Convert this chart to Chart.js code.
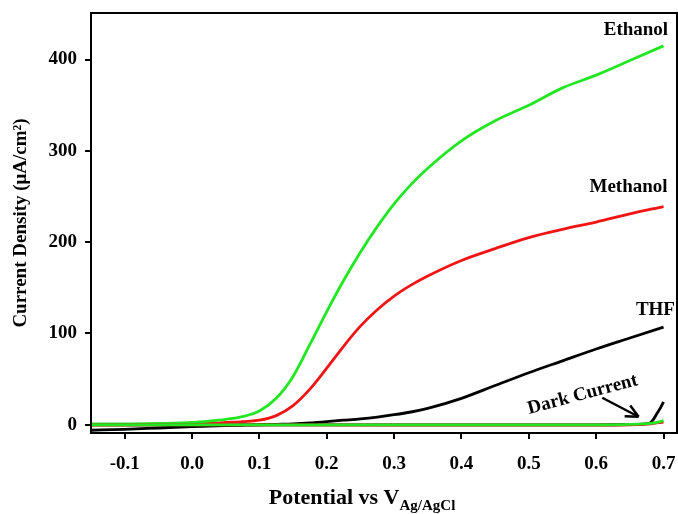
<!DOCTYPE html>
<html>
<head>
<meta charset="utf-8">
<script src="https://cdn.jsdelivr.net/npm/chart.js@4"></script>
<style>
  html, body { margin: 0; padding: 0; background: #fff; }
  #wrap { width: 678px; height: 514px; }
</style>
</head>
<body>
<div id="wrap"><canvas id="cv" width="678" height="514"></canvas></div>
<script>
// Potential (V vs Ag/AgCl)
const potential = [-0.15, -0.10, -0.05, 0.00, 0.025, 0.05, 0.075, 0.10, 0.125, 0.15, 0.175, 0.20,
  0.225, 0.25, 0.275, 0.30, 0.325, 0.35, 0.40, 0.45, 0.50, 0.55, 0.60, 0.65, 0.70];
// Current density, uA/cm2, under light
const ethanol = [1, 1, 1.5, 2.5, 4, 6, 9, 15, 29, 53, 88, 124,
  158, 189, 217, 242, 263, 281, 311, 333, 350, 369, 383, 399, 415];
const methanol = [0, 0, 0.5, 1, 1.5, 2.5, 3.5, 5, 10, 21, 39, 62,
  86, 108, 126, 141, 153, 163, 180, 193, 205, 214, 222, 231, 239];
const thf = [-6, -5, -3.5, -2, -1.5, -1, -0.5, 0, 0.5, 1, 2, 3.5,
  5, 6.5, 8.5, 11, 14, 18, 29, 43, 57, 70, 83, 95, 107];
// Dark current
const darkPotential = [-0.15, 0.00, 0.30, 0.50, 0.60, 0.65, 0.67, 0.68, 0.685, 0.69, 0.695, 0.70];
const darkEthanol = [0, 0, 0, 0, 0, 0.5, 1, 1.5, 2, 2.5, 3.5, 4.5];
const darkMethanol = [0, 0, -0.3, -0.3, -0.3, 0, 0.5, 1, 1.5, 2, 2.5, 3];
const darkThf = [0, 0, 0, 0, 0, 0.3, 0.8, 2, 6, 12, 18, 25];

const xTicks = [-0.1, 0.0, 0.1, 0.2, 0.3, 0.4, 0.5, 0.6, 0.7];
const yTicks = [0, 100, 200, 300, 400];

const GREEN = '#22e622';
const RED = '#f01414';
const FONT = 'Liberation Serif';

function pts(xs, ys) {
  return xs.map((x, i) => ({ x: x, y: ys[i] }));
}

// labels placed in data coordinates
const labels = [
  { text: 'Ethanol', x: 0.659, y: 432 },
  { text: 'Methanol', x: 0.648, y: 260 },
  { text: 'THF', x: 0.688, y: 126 }
];

const decor = {
  id: 'decor',
  afterDraw(chart) {
    const { ctx, chartArea: a, scales: { x, y } } = chart;
    ctx.save();
    // frame
    ctx.strokeStyle = '#000';
    ctx.lineWidth = 2;
    ctx.strokeRect(a.left, a.top, a.right - a.left, a.bottom - a.top);

    ctx.fillStyle = '#000';
    ctx.font = 'bold 19px "' + FONT + '"';
    ctx.textAlign = 'center';
    ctx.textBaseline = 'middle';
    labels.forEach(l => ctx.fillText(l.text, x.getPixelForValue(l.x), y.getPixelForValue(l.y)));

    // Dark Current label and arrow
    ctx.save();
    ctx.translate(x.getPixelForValue(0.580), y.getPixelForValue(33));
    ctx.rotate(-15 * Math.PI / 180);
    ctx.fillText('Dark Current', 0, 0);
    ctx.restore();
    const x0 = x.getPixelForValue(0.609), y0 = y.getPixelForValue(29.6);
    const x1 = x.getPixelForValue(0.663), y1 = y.getPixelForValue(8.8);
    ctx.lineWidth = 2.5;
    ctx.beginPath();
    ctx.moveTo(x0, y0);
    ctx.lineTo(x1, y1);
    ctx.stroke();
    const ang = Math.atan2(y1 - y0, x1 - x0);
    ctx.beginPath();
    ctx.moveTo(x1, y1);
    ctx.lineTo(x1 - 14 * Math.cos(ang - 0.45), y1 - 14 * Math.sin(ang - 0.45));
    ctx.moveTo(x1, y1);
    ctx.lineTo(x1 - 14 * Math.cos(ang + 0.45), y1 - 14 * Math.sin(ang + 0.45));
    ctx.stroke();

    // y title
    ctx.save();
    ctx.translate(21, 223);
    ctx.rotate(-Math.PI / 2);
    ctx.font = 'bold 19px "' + FONT + '"';
    ctx.fillText('Current Density (\u03bcA/cm\u00b2)', 0, 0);
    ctx.restore();

    // x title with subscript
    const main = 'Potential vs V', sub = 'Ag/AgCl';
    ctx.font = 'bold 22px "' + FONT + '"';
    const w1 = ctx.measureText(main).width;
    ctx.font = 'bold 15px "' + FONT + '"';
    const w2 = ctx.measureText(sub).width;
    let sx = 362 - (w1 + w2) / 2;
    ctx.textAlign = 'left';
    ctx.textBaseline = 'alphabetic';
    ctx.font = 'bold 22px "' + FONT + '"';
    ctx.fillText(main, sx, 504);
    ctx.font = 'bold 15px "' + FONT + '"';
    ctx.fillText(sub, sx + w1, 510);
    ctx.restore();
  }
};

const line = (data, color) => ({
  data: data,
  borderColor: color,
  borderWidth: 2.8,
  pointRadius: 0,
  fill: false,
  cubicInterpolationMode: 'monotone'
});

// first dataset is drawn on top
new Chart(document.getElementById('cv'), {
  type: 'line',
  data: {
    datasets: [
      line(pts(darkPotential, darkEthanol), GREEN),
      line(pts(darkPotential, darkMethanol), RED),
      line(pts(potential, ethanol), GREEN),
      line(pts(potential, methanol), RED),
      line(pts(potential, thf), '#000'),
      line(pts(darkPotential, darkThf), '#000')
    ]
  },
  options: {
    responsive: false,
    animation: false,
    layout: { padding: { top: 13, right: 1, left: 0, bottom: 0 } },
    plugins: { legend: { display: false }, tooltip: { enabled: false } },
    scales: {
      x: {
        type: 'linear',
        min: -0.15,
        max: 0.72,
        afterBuildTicks: s => { s.ticks = xTicks.map(v => ({ value: v })); },
        afterFit: s => { s.height = 81; s.paddingLeft = 0; s.paddingRight = 0; },
        grid: { drawOnChartArea: false, drawTicks: true, tickLength: 6, color: '#000', lineWidth: 2 },
        border: { display: true, color: '#000', width: 2 },
        ticks: {
          padding: 14,
          color: '#000',
          font: { family: FONT, size: 19, weight: 'bold' },
          callback: v => v.toFixed(1),
          maxRotation: 0
        }
      },
      y: {
        min: -9,
        max: 451,
        afterBuildTicks: s => { s.ticks = yTicks.map(v => ({ value: v })); },
        afterFit: s => { s.width = 91; s.paddingTop = 0; s.paddingBottom = 0; },
        grid: { drawOnChartArea: false, drawTicks: true, tickLength: 6, color: '#000', lineWidth: 2 },
        border: { display: true, color: '#000', width: 2 },
        ticks: {
          padding: 8,
          color: '#000',
          font: { family: FONT, size: 19, weight: 'bold' }
        }
      }
    }
  },
  plugins: [decor]
});
</script>
</body>
</html>
